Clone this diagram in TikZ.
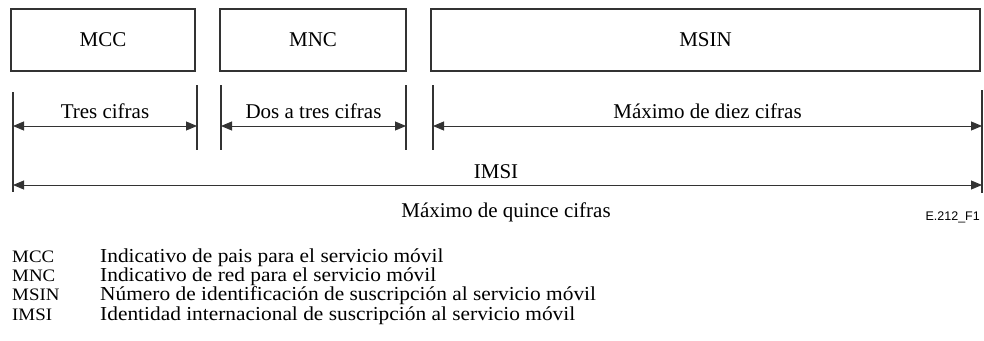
\documentclass[tikz,border=0pt]{standalone}
\usepackage{fontspec}
\setmainfont{Liberation Serif}
\newfontfamily\figfont{Liberation Sans}
\newfontfamily\legendfont[FakeStretch=1.08]{Liberation Serif}
\usetikzlibrary{arrows.meta}
\tikzset{
  field/.style={draw=black!80,line width=1.4pt,minimum height=62pt,inner sep=0pt,
    font=\fontsize{21}{24}\selectfont},
  span/.style={draw=black!80,line width=0.9pt,{Triangle[length=11pt,width=9pt]}-{Triangle[length=11pt,width=9pt]}},
  tick/.style={draw=black!80,line width=1.4pt},
  lbl/.style={inner sep=0pt,font=\fontsize{21}{24}\selectfont},
  abbr/.style={inner sep=0pt,anchor=base west,text height=12pt,text depth=2pt,
    font=\legendfont\fontsize{17.5}{20}\selectfont},
  legend/.style={inner sep=0pt,anchor=base west,text height=13pt,text depth=3pt,
    font=\legendfont\fontsize{19.8}{20}\selectfont}
}
\begin{document}
\begin{tikzpicture}[x=1pt,y=-1pt]
  \useasboundingbox (0,0) rectangle (984,340);
% fields
  \node[field,minimum width=184pt] (mcc)  at (103,40)   {MCC};
  \node[field,minimum width=186pt] (mnc)  at (313,40)   {MNC};
  \node[field,minimum width=549pt] (msin) at (705.5,40) {MSIN};
% ticks
  \coordinate (a0) at (13,92);  \coordinate (b0) at (13,192);
  \coordinate (a1) at (197,85); \coordinate (b1) at (197,150);
  \coordinate (a2) at (221,85); \coordinate (b2) at (221,150);
  \coordinate (a3) at (406,85); \coordinate (b3) at (406,150);
  \coordinate (a4) at (433,85); \coordinate (b4) at (433,150);
  \coordinate (a5) at (982,90); \coordinate (b5) at (982,193);
  \foreach \i in {0,...,5}
    \draw[tick] (a\i) -- (b\i);
% digit counts
  \coordinate (l0) at (13,126);  \coordinate (r0) at (197,126);
  \coordinate (l1) at (221,126); \coordinate (r1) at (406,126);
  \coordinate (l2) at (433,126); \coordinate (r2) at (982,126);
  \draw[span] (l0) -- node[lbl,above=7pt] (tres) {Tres cifras} (r0);
  \draw[span] (l1) -- node[lbl,above=7pt] (dos) {Dos a tres cifras} (r1);
  \draw[span] (l2) -- node[lbl,above=7pt] (diez) {Máximo de diez cifras} (r2);
% IMSI
  \coordinate (l3) at (13,185);  \coordinate (r3) at (982,185);
  \draw[span] (l3) -- (r3);
  \node[lbl] (imsi) at (496,172) {IMSI};
  \node[lbl] (quince) at (506,212) {Máximo de quince cifras};
  \node[inner sep=0pt,anchor=east,font=\figfont\fontsize{12.5}{14}\selectfont] (fig) at (980,217) {E.212\_F1};
% legend
  \foreach \y/\ab/\txt in {262/MCC/Indicativo de pais para el servicio móvil,
      281/MNC/Indicativo de red para el servicio móvil,
      300.5/MSIN/Número de identificación de suscripción al servicio móvil,
      320/IMSI/Identidad internacional de suscripción al servicio móvil}{
    \node[abbr] (ab-\ab) at (12,\y) {\ab};
    \node[legend] (tx-\ab) at (100,\y) {\txt};
  }
\end{tikzpicture}
\end{document}
